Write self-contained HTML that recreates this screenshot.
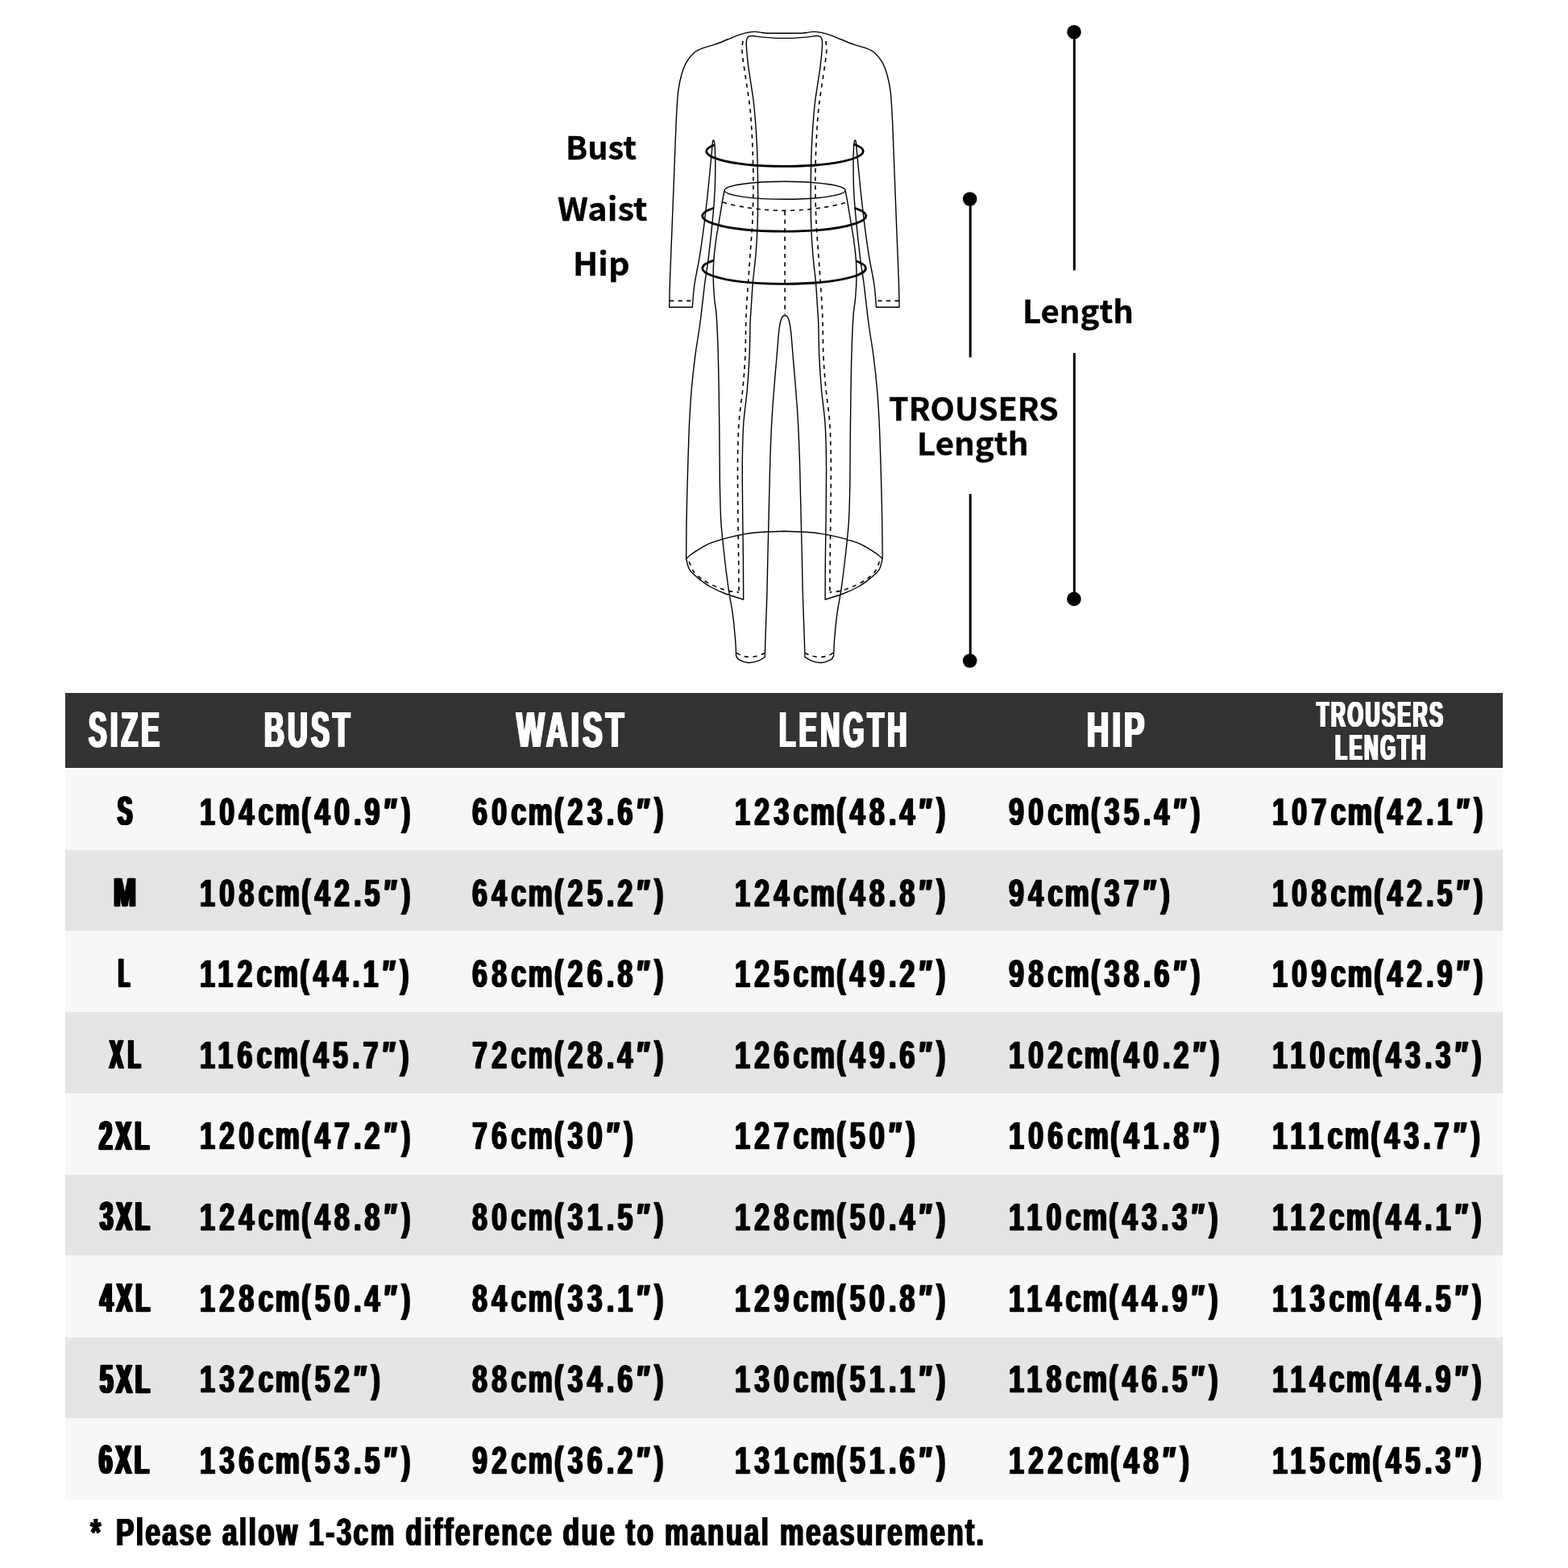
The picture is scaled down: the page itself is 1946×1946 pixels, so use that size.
<!DOCTYPE html>
<html lang="en">
<head>
<meta charset="utf-8">
<meta name="viewport" content="width=1946">
<title>Size Chart</title>
<style>
html,body{margin:0;padding:0;background:#fff}
body{width:1946px;height:1946px;position:relative;overflow:hidden;font-family:"Liberation Sans",sans-serif;font-weight:bold;color:#000}
.figure{position:absolute;left:0;top:0;display:block}
.t{position:absolute;margin:0;white-space:nowrap;line-height:1;transform-origin:0 0;font-weight:bold;will-change:transform}
.lbl{font-family:"Noto Sans CJK SC", "Liberation Sans", sans-serif;-webkit-text-stroke:.35px #000}
.chart{position:absolute;left:81px;top:860px;width:1784px;height:1001px}
.head{position:absolute;left:0;top:0;width:100%;height:93px;background:#333;color:#fff}
.row{position:absolute;left:0;width:100%;background:#f7f7f7}
.row.alt{background:#e5e5e5}
.row .t{font-size:48.5px;letter-spacing:7.54px;transform:scaleX(0.7);-webkit-text-stroke:0.5px #000;text-shadow:1.6px 0 #000,-1.6px 0 #000,0.8px 0 #000,-0.8px 0 #000;}
.row i{font-style:normal;letter-spacing:3.27px}
.row b{font-weight:inherit;letter-spacing:5.72px}
.c1{left:166.9px}
.c2{left:504.7px}
.c3{left:831.1px}
.c4{left:1171px}
.c5{left:1498.1px}
</style>
</head>
<body>
<svg class="figure" width="1946" height="860" viewBox="0 0 1946 860" role="img" aria-label="Measurement guide">
<g class="garment" fill="none" stroke="#000" stroke-width="1.4" stroke-linecap="round" stroke-linejoin="round">
<path d="M973.4,41.3C971.5,41.3 965.5,41.3 962,41.3C958.5,41.3 954.9,41.3 952.5,41.2C950.1,41.1 949,41 947.5,40.8C946,40.6 945.2,40.3 943.5,40.1C941.8,39.9 939.5,39.4 937,39.4C934.5,39.4 931.8,39.6 928.7,40.2C925.6,40.8 922.6,41.3 918.3,42.8C914,44.3 908,46.9 902.8,49C897.6,51.1 892.5,53.4 887.3,55.2C882.1,57 876.1,58.2 871.8,59.9C867.5,61.6 864.7,62.7 861.4,65.5C858.1,68.3 854.7,72.4 852.1,76.9C849.5,81.4 847.6,86.5 845.9,92.5C844.2,98.5 842.8,103.6 841.7,113.2C840.6,122.8 840.1,132.2 839.2,150C838.3,167.8 837.4,196.8 836.5,220C835.6,243.2 834.6,267.3 833.8,289C832.9,310.7 831.9,334.6 831.4,350C830.9,365.4 830.8,376.1 830.7,381.3M973.4,41.3C975.3,41.3 981.3,41.3 984.8,41.3C988.3,41.3 991.9,41.3 994.3,41.2C996.7,41.1 997.8,41 999.3,40.8C1000.8,40.6 1001.5,40.3 1003.3,40.1C1005,39.9 1007.3,39.4 1009.8,39.4C1012.3,39.4 1015,39.6 1018.1,40.2C1021.2,40.8 1024.2,41.3 1028.5,42.8C1032.8,44.3 1038.8,46.9 1044,49C1049.2,51.1 1054.3,53.4 1059.5,55.2C1064.7,57 1070.7,58.2 1075,59.9C1079.3,61.6 1082.1,62.7 1085.4,65.5C1088.7,68.3 1092.1,72.4 1094.7,76.9C1097.3,81.4 1099.2,86.5 1100.9,92.5C1102.6,98.5 1104,103.6 1105.1,113.2C1106.2,122.8 1106.7,132.2 1107.6,150C1108.5,167.8 1109.4,196.8 1110.3,220C1111.2,243.2 1112.2,267.3 1113,289C1113.8,310.7 1114.9,334.6 1115.4,350C1115.9,365.4 1116,376.1 1116.1,381.3M859.3,381.3C859.5,378.6 860.1,370.2 860.6,365C861.1,359.8 861,358.2 862.4,350C863.8,341.8 866.8,327.4 868.7,315.6C870.6,303.8 872.2,291.5 873.8,279.4C875.3,267.3 876.6,256.1 878,243.2C879.4,230.3 881.2,211.3 882.1,201.8C883,192.3 883.3,189.8 883.6,186C883.9,182.2 883.9,180.7 884.1,179C884.3,177.3 884.4,176.4 884.6,175.6C884.8,174.8 885.2,173.9 885.5,173.9C885.8,173.9 886.2,174.8 886.4,175.6C886.6,176.4 886.7,177.3 886.9,179C887.1,180.7 887.2,182.2 887.4,186C887.5,189.8 887.8,194 887.8,201.8C887.8,209.6 887.7,222.5 887.3,232.8C886.9,243.2 886.1,253.5 885.2,263.9C884.3,274.2 883.2,284.5 882.1,294.9C881,305.2 879.7,316.8 878.5,326C877.3,335.2 876.5,337.7 874.9,350C873.3,362.3 871,384.8 869,400C867,415.2 864.6,427.6 862.8,441.4C861,455.2 859.5,469 858.3,482.8C857.1,496.6 856.3,510.4 855.6,524.2C854.9,538 854.6,551.8 854.1,565.6C853.6,579.4 853.2,593.2 852.9,607C852.5,620.8 852.2,634 852,648.4C851.8,662.8 851.7,686 851.6,693.5M1087.5,381.3C1087.3,378.6 1086.7,370.2 1086.2,365C1085.7,359.8 1085.8,358.2 1084.4,350C1083.1,341.8 1080,327.4 1078.1,315.6C1076.2,303.8 1074.5,291.5 1073,279.4C1071.5,267.3 1070.2,256.1 1068.8,243.2C1067.4,230.3 1065.6,211.3 1064.7,201.8C1063.8,192.3 1063.5,189.8 1063.2,186C1062.9,182.2 1062.9,180.7 1062.7,179C1062.5,177.3 1062.4,176.4 1062.2,175.6C1062,174.8 1061.6,173.9 1061.3,173.9C1061,173.9 1060.6,174.8 1060.4,175.6C1060.2,176.4 1060.1,177.3 1059.9,179C1059.7,180.7 1059.6,182.2 1059.4,186C1059.2,189.8 1059,194 1059,201.8C1059,209.6 1059.1,222.5 1059.5,232.8C1059.9,243.2 1060.7,253.5 1061.6,263.9C1062.5,274.2 1063.6,284.5 1064.7,294.9C1065.8,305.2 1067.1,316.8 1068.3,326C1069.5,335.2 1070.3,337.7 1071.9,350C1073.5,362.3 1075.8,384.8 1077.8,400C1079.8,415.2 1082.2,427.6 1084,441.4C1085.8,455.2 1087.3,469 1088.5,482.8C1089.7,496.6 1090.5,510.4 1091.2,524.2C1091.9,538 1092.2,551.8 1092.7,565.6C1093.1,579.4 1093.6,593.2 1093.9,607C1094.2,620.8 1094.6,634 1094.8,648.4C1095,662.8 1095.1,686 1095.2,693.5M851.6,693.5C852.3,695.7 853.2,702.8 855.7,706.8C858.2,710.8 862.2,714 866.6,717.6C871,721.2 876.4,725.3 882.1,728.5C887.8,731.7 893.9,734.4 900.7,737C907.5,739.6 919,742.8 922.7,744M1095.2,693.5C1094.5,695.7 1093.6,702.8 1091.1,706.8C1088.6,710.8 1084.6,714 1080.2,717.6C1075.8,721.2 1070.4,725.3 1064.7,728.5C1059,731.7 1052.9,734.4 1046.1,737C1039.3,739.6 1027.8,742.8 1024.1,744M922.7,744C922.7,735 922.5,705.9 922.4,690C922.2,674.1 922,662.2 921.8,648.4C921.6,634.6 921.5,620.8 921.4,607C921.3,593.2 921.1,579.4 921.4,565.6C921.6,551.8 921.9,538 922.9,524.2C923.9,510.4 926.2,496.6 927.4,482.8C928.6,469 929.5,455.2 930.1,441.4C930.7,427.6 930.8,409.9 931.1,400C931.5,390.1 931.7,390.6 932.2,382.3C932.8,374 933.4,361.1 934.4,350C935.4,338.9 937,327.4 938,315.6C939,303.8 939.7,291.5 940.1,279.4C940.5,267.3 940.6,255.4 940.6,243.2C940.6,231 940.4,215.9 940.2,206.3C940,196.7 939.9,192.5 939.6,185.6C939.3,178.7 938.9,171.8 938.5,164.9C938.1,158 937.6,151.1 937,144.2C936.4,137.3 935.8,130.4 934.9,123.5C934,116.6 932.8,109.7 931.8,102.8C930.8,95.9 929.6,89 928.7,82.1C927.8,75.2 927,66.6 926.6,61.4C926.2,56.2 926.1,53.6 926.4,51C926.7,48.4 927,47 928.2,45.9C929.5,44.8 931.2,44.5 933.9,44.5C936.6,44.5 939.9,45.5 944.2,45.9C948.5,46.3 954.9,46.9 959.8,47.1C964.7,47.4 971.1,47.4 973.4,47.4M1024.1,744C1024.1,735 1024.2,705.9 1024.4,690C1024.6,674.1 1024.8,662.2 1025,648.4C1025.2,634.6 1025.3,620.8 1025.4,607C1025.5,593.2 1025.7,579.4 1025.4,565.6C1025.2,551.8 1024.9,538 1023.9,524.2C1022.9,510.4 1020.6,496.6 1019.4,482.8C1018.2,469 1017.3,455.2 1016.7,441.4C1016.1,427.6 1016,409.9 1015.7,400C1015.3,390.1 1015.1,390.6 1014.6,382.3C1014,374 1013.4,361.1 1012.4,350C1011.4,338.9 1009.8,327.4 1008.8,315.6C1007.8,303.8 1007.1,291.5 1006.7,279.4C1006.3,267.3 1006.2,255.4 1006.2,243.2C1006.2,231 1006.4,215.9 1006.6,206.3C1006.8,196.7 1006.9,192.5 1007.2,185.6C1007.5,178.7 1007.9,171.8 1008.3,164.9C1008.7,158 1009.2,151.1 1009.8,144.2C1010.4,137.3 1011,130.4 1011.9,123.5C1012.8,116.6 1014,109.7 1015,102.8C1016,95.9 1017.2,89 1018.1,82.1C1019,75.2 1019.8,66.6 1020.2,61.4C1020.6,56.2 1020.7,53.6 1020.4,51C1020.1,48.4 1019.8,47 1018.6,45.9C1017.3,44.8 1015.6,44.5 1012.9,44.5C1010.2,44.5 1006.9,45.5 1002.6,45.9C998.3,46.3 991.9,46.9 987,47.1C982.1,47.4 975.7,47.4 973.4,47.4M898.9,237C898.5,239.1 897.7,243.2 896.6,249.4C895.5,255.6 893.9,265.8 892.5,274.2C891.1,282.6 889.4,291.5 888.3,300.1C887.1,308.7 886.1,317.6 885.6,326C885.1,334.4 885.2,343 885.4,350.7C885.6,358.4 886.2,365.1 886.8,372C887.4,378.9 888.5,381.9 889.2,392.1C889.9,402.4 890.6,418 891.1,433.5C891.6,449 891.9,469.2 892.2,485.3C892.5,501.4 892.6,516.6 892.8,530C892.9,543.4 893,552.8 893.1,565.6C893.2,578.4 893.2,593.2 893.5,607C893.8,620.8 894,634.6 894.9,648.4C895.8,662.2 897.5,676.2 899,690C900.5,703.8 902.5,719.2 904.2,731.3C905.9,743.3 908,751.6 909.4,762.3C910.8,773 912,786.7 912.7,795.3C913.4,803.9 913.5,810.8 913.6,813.9M1049.3,237C1049.7,239.1 1050.5,243.2 1051.6,249.4C1052.7,255.6 1054.3,265.8 1055.7,274.2C1057.1,282.6 1058.8,291.5 1059.9,300.1C1061.1,308.7 1062.1,317.6 1062.6,326C1063.1,334.4 1063,343 1062.8,350.7C1062.6,358.4 1062,365.1 1061.4,372C1060.8,378.9 1059.7,381.9 1059,392.1C1058.3,402.4 1057.6,418 1057.1,433.5C1056.6,449 1056.3,469.2 1056,485.3C1055.7,501.4 1055.6,516.6 1055.4,530C1055.2,543.4 1055.2,552.8 1055.1,565.6C1055,578.4 1055,593.2 1054.7,607C1054.4,620.8 1054.2,634.6 1053.3,648.4C1052.4,662.2 1050.8,676.2 1049.2,690C1047.7,703.8 1045.7,719.2 1044,731.3C1042.3,743.3 1040.2,751.6 1038.8,762.3C1037.4,773 1036.2,786.7 1035.5,795.3C1034.8,803.9 1034.8,810.8 1034.6,813.9M913.6,813.9C914.2,814.7 914.5,817.2 917,818.6C919.5,820 924.7,822.2 928.7,822.5C932.7,822.8 937.7,821.3 941.1,820.1C944.5,818.9 947.9,816.3 949.2,815.5M1034.6,813.9C1034,814.7 1033.7,817.2 1031.2,818.6C1028.7,820 1023.5,822.2 1019.5,822.5C1015.5,822.8 1010.5,821.3 1007.1,820.1C1003.7,818.9 1000.4,816.3 999,815.5M949.2,815.5C949.4,809.5 949.9,793.5 950.4,779.8C950.9,766.1 951.6,748.2 952,733.2C952.4,718.2 952.6,704.1 952.9,690C953.2,675.9 953.6,662.2 953.9,648.4C954.2,634.6 954.5,620.8 954.9,607C955.2,593.2 955.5,580.7 956,565.6C956.5,550.5 957.3,531.4 958.2,516.3C959.1,501.2 960.3,487 961.3,474.9C962.2,462.8 963.1,453.4 963.9,443.9C964.7,434.4 965.4,424.6 966,418C966.6,411.4 967,408.1 967.6,404.5C968.2,400.9 968.8,398.3 969.5,396.3C970.2,394.3 970.8,393.3 971.6,392.5C972.4,391.7 973.7,391.5 974.1,391.3M999,815.5C998.8,809.5 998.3,793.5 997.8,779.8C997.3,766.1 996.6,748.2 996.2,733.2C995.8,718.2 995.6,704.1 995.3,690C995,675.9 994.6,662.2 994.3,648.4C994,634.6 993.7,620.8 993.3,607C993,593.2 992.8,580.7 992.2,565.6C991.7,550.5 990.9,531.4 990,516.3C989.1,501.2 987.9,487 986.9,474.9C986,462.8 985.1,453.4 984.3,443.9C983.5,434.4 982.8,424.6 982.2,418C981.6,411.4 981.2,408.1 980.6,404.5C980,400.9 979.4,398.3 978.7,396.3C978,394.3 977.4,393.3 976.6,392.5C975.8,391.7 974.5,391.5 974.1,391.3M830.7,381.3H859.3M1116.1,381.3H1087.5M851.6,693.5C852.4,692.8 854.6,690.5 856.5,689C858.4,687.5 860.1,686.4 862.8,684.7C865.5,683 869,680.5 872.5,678.6C876,676.7 878.2,675.2 883.5,673.3C888.8,671.4 895.6,669.1 904.2,667.1C912.8,665.1 923.8,662.6 935.3,661.3C946.8,660 967,659.6 973.4,659.3M1095.2,693.5C1094.4,692.8 1092.2,690.5 1090.3,689C1088.4,687.5 1086.7,686.4 1084,684.7C1081.3,683 1077.8,680.5 1074.3,678.6C1070.8,676.7 1068.6,675.2 1063.3,673.3C1058,671.4 1051.2,669.1 1042.6,667.1C1034,665.1 1023,662.6 1011.5,661.3C1000,660 979.8,659.6 973.4,659.3"/>
<ellipse cx="974.1" cy="236.3" rx="75" ry="11"/>
<path stroke-width="1.6" stroke-dasharray="5.2 5.4" stroke-linecap="butt" d="M922,51C921.8,52.7 920.8,57.1 920.9,61.4C921,65.7 921.7,70.9 922.5,76.9C923.3,82.9 924.6,90.7 925.6,97.6C926.6,104.5 927.8,111.4 928.7,118.3C929.7,125.2 930.6,132.1 931.3,139C932,145.9 932.4,152.8 932.8,159.7C933.2,166.6 933.6,173.5 933.9,180.5C934.2,187.5 934.4,193.1 934.6,201.8C934.8,210.5 935,220.7 934.9,232.8C934.8,244.9 934.4,262.1 933.9,274.2C933.4,286.3 932.6,294.1 931.8,305.3C931,316.5 930.2,326.9 929.2,341.5C928.2,356.1 926.7,376.1 926,392.7C925.3,409.3 925.6,426.4 924.9,441.4C924.2,456.4 923.1,469 921.8,482.8C920.5,496.6 918.1,510.4 917.1,524.2C916.1,538 915.9,551.8 915.6,565.6C915.4,579.4 915.5,593.2 915.6,607C915.7,620.8 915.8,634.6 916,648.4C916.2,662.2 916.4,675.6 916.6,690C916.8,704.4 916.9,727.5 917,735M1024.8,51C1025,52.7 1026,57.1 1025.9,61.4C1025.8,65.7 1025.1,70.9 1024.3,76.9C1023.5,82.9 1022.2,90.7 1021.2,97.6C1020.2,104.5 1019,111.4 1018.1,118.3C1017.1,125.2 1016.2,132.1 1015.5,139C1014.8,145.9 1014.4,152.8 1014,159.7C1013.6,166.6 1013.2,173.5 1012.9,180.5C1012.6,187.5 1012.4,193.1 1012.2,201.8C1012,210.5 1011.8,220.7 1011.9,232.8C1012,244.9 1012.4,262.1 1012.9,274.2C1013.4,286.3 1014.2,294.1 1015,305.3C1015.8,316.5 1016.6,326.9 1017.6,341.5C1018.6,356.1 1020.1,376.1 1020.8,392.7C1021.5,409.3 1021.2,426.4 1021.9,441.4C1022.6,456.4 1023.7,469 1025,482.8C1026.3,496.6 1028.7,510.4 1029.7,524.2C1030.7,538 1030.9,551.8 1031.2,565.6C1031.4,579.4 1031.3,593.2 1031.2,607C1031.1,620.8 1031,634.6 1030.8,648.4C1030.6,662.2 1030.4,675.6 1030.2,690C1030,704.4 1029.9,727.5 1029.8,735M855.3,697C856.2,699.1 858,705.7 861,709.5C864,713.3 868.2,716.8 873,720C877.8,723.2 884.7,726.5 890,728.8C895.3,731.1 900.5,732.6 905,733.6C909.5,734.6 915,734.8 917,735M1091.5,697C1090.5,699.1 1088.8,705.7 1085.8,709.5C1082.8,713.3 1078.6,716.8 1073.8,720C1069,723.2 1062.1,726.5 1056.8,728.8C1051.5,731.1 1046.3,732.6 1041.8,733.6C1037.3,734.6 1031.8,734.8 1029.8,735M914.3,810.3C915.4,810.9 918.4,812.9 921,813.8C923.6,814.7 926.8,815.5 930,815.6C933.2,815.7 936.9,815 940,814.2C943.1,813.4 947.3,811.2 948.8,810.6M1033.9,810.3C1032.8,810.9 1029.8,812.9 1027.2,813.8C1024.6,814.7 1021.4,815.5 1018.2,815.6C1015,815.7 1011.3,815 1008.2,814.2C1005.1,813.4 1000.9,811.2 999.4,810.6M831,373.4H860.4M1115.8,373.4H1086.4M897.1,250.9C898.4,251.3 901.2,252.4 905,253.3C908.8,254.2 915,255.5 920,256.4C925,257.3 929.7,258 935,258.7C940.3,259.4 945.5,260.1 952,260.5C958.5,260.9 966.7,261.4 974.1,261.4C981.5,261.4 989.7,260.9 996.2,260.5C1002.7,260.1 1007.9,259.4 1013.2,258.7C1018.5,258 1023.2,257.3 1028.2,256.4C1033.2,255.5 1039.4,254.2 1043.2,253.3C1047,252.4 1049.8,251.3 1051.1,250.9M974.1,262V390"/>
</g>
<g class="tape" fill="none" stroke="#000" stroke-width="2.8" stroke-linecap="round">
<path d="M885.4,180.2A97.3,18.5 0 1 0 1060.3,179.3"/>
<path d="M884.9,258.5A101.6,19.2 0 1 0 1061.6,258.5"/>
<path d="M885.1,323.4A101.4,19.3 0 1 0 1063.4,324.2"/>
</g>
<g class="dims" stroke="#000" stroke-width="3" fill="#000">
<path d="M1333.3,40V335.6M1333.3,438V743M1204.2,247V443.6M1204.2,613V820" fill="none"/>
<circle cx="1333" cy="39.8" r="8.8" stroke="none"/><circle cx="1332.9" cy="743.4" r="8.8" stroke="none"/>
<circle cx="1203.7" cy="247" r="8.8" stroke="none"/><circle cx="1203.7" cy="820" r="8.8" stroke="none"/>
</g>
</svg>
<div class="t lbl" style="left:701.87px;top:161.22px;font-size:39.29px;transform:scaleX(1.014)">Bust</div>
<div class="t lbl" style="left:692.16px;top:237.02px;font-size:39.29px;transform:scaleX(1.056)">Waist</div>
<div class="t lbl" style="left:711.13px;top:305.32px;font-size:39.29px;transform:scaleX(1.054)">Hip</div>
<div class="t lbl" style="left:1268.85px;top:365.13px;font-size:38.74px;transform:scaleX(1.035)">Length</div>
<div class="t lbl" style="left:1102.62px;top:485.76px;font-size:38.61px;transform:scaleX(1.021)">TROUSERS</div>
<div class="t lbl" style="left:1138.04px;top:528.99px;font-size:38.47px;transform:scaleX(1.046)">Length</div>
<div class="chart">
<div class="head">
<div class="t" style="left:29.06px;top:13.41px;font-size:63.66px;letter-spacing:8.12px;transform:scaleX(0.53);text-shadow:2.83px 0 #fff,-2.83px 0 #fff,1.42px 0 #fff,-1.42px 0 #fff;">SIZE</div>
<div class="t" style="left:246.71px;top:13.41px;font-size:63.66px;letter-spacing:7.99px;transform:scaleX(0.538);text-shadow:2.79px 0 #fff,-2.79px 0 #fff,1.39px 0 #fff,-1.39px 0 #fff;">BUST</div>
<div class="t" style="left:559.51px;top:13.41px;font-size:63.66px;letter-spacing:7.46px;transform:scaleX(0.576);text-shadow:2.6px 0 #fff,-2.6px 0 #fff,1.3px 0 #fff,-1.3px 0 #fff;">WAIST</div>
<div class="t" style="left:885.87px;top:13.41px;font-size:63.66px;letter-spacing:8.22px;transform:scaleX(0.523);text-shadow:2.87px 0 #fff,-2.87px 0 #fff,1.43px 0 #fff,-1.43px 0 #fff;">LENGTH</div>
<div class="t" style="left:1268.29px;top:13.41px;font-size:63.66px;letter-spacing:7.29px;transform:scaleX(0.59);text-shadow:2.54px 0 #fff,-2.54px 0 #fff,1.27px 0 #fff,-1.27px 0 #fff;">HIP</div>
<div class="t" style="left:1553.01px;top:4.65px;font-size:44.48px;letter-spacing:4.63px;transform:scaleX(0.561);text-shadow:2.32px 0 #fff,-2.32px 0 #fff,1.16px 0 #fff,-1.16px 0 #fff;">TROUSERS</div>
<div class="t" style="left:1575.68px;top:45.73px;font-size:44.62px;letter-spacing:4.8px;transform:scaleX(0.542);text-shadow:2.4px 0 #fff,-2.4px 0 #fff,1.2px 0 #fff,-1.2px 0 #fff;">LENGTH</div>
</div>
<div class="row" style="top:95px;height:100px">
<div class="t" style="left:64.55px;top:26.94px;font-size:50.4px;letter-spacing:0px;transform:scaleX(0.54);text-shadow:3.34px 0 #000,-3.34px 0 #000,1.67px 0 #000,-1.67px 0 #000;">S</div>
<div class="t c1" style="top:27.84px">104<i>cm</i>(40<b>.</b>9″)</div>
<div class="t c2" style="top:27.84px">60<i>cm</i>(23<b>.</b>6″)</div>
<div class="t c3" style="top:27.84px">123<i>cm</i>(48<b>.</b>4″)</div>
<div class="t c4" style="top:27.84px">90<i>cm</i>(35<b>.</b>4″)</div>
<div class="t c5" style="top:27.84px">107<i>cm</i>(42<b>.</b>1″)</div>
</div>
<div class="row alt" style="top:195px;height:100px">
<div class="t" style="left:59.64px;top:27.6px;font-size:50.4px;letter-spacing:0px;transform:scaleX(0.66);text-shadow:2.73px 0 #000,-2.73px 0 #000,1.36px 0 #000,-1.36px 0 #000;">M</div>
<div class="t c1" style="top:28.5px">108<i>cm</i>(42<b>.</b>5″)</div>
<div class="t c2" style="top:28.5px">64<i>cm</i>(25<b>.</b>2″)</div>
<div class="t c3" style="top:28.5px">124<i>cm</i>(48<b>.</b>8″)</div>
<div class="t c4" style="top:28.5px">94<i>cm</i>(37″)</div>
<div class="t c5" style="top:28.5px">108<i>cm</i>(42<b>.</b>5″)</div>
</div>
<div class="row" style="top:295px;height:101px">
<div class="t" style="left:66.2px;top:28.26px;font-size:50.4px;letter-spacing:0px;transform:scaleX(0.448);text-shadow:4.02px 0 #000,-4.02px 0 #000,2.01px 0 #000,-2.01px 0 #000;">L</div>
<div class="t c1" style="top:29.16px">112<i>cm</i>(44<b>.</b>1″)</div>
<div class="t c2" style="top:29.16px">68<i>cm</i>(26<b>.</b>8″)</div>
<div class="t c3" style="top:29.16px">125<i>cm</i>(49<b>.</b>2″)</div>
<div class="t c4" style="top:29.16px">98<i>cm</i>(38<b>.</b>6″)</div>
<div class="t c5" style="top:29.16px">109<i>cm</i>(42<b>.</b>9″)</div>
</div>
<div class="row alt" style="top:396px;height:101px">
<div class="t" style="left:54.56px;top:27.92px;font-size:50.4px;letter-spacing:12.25px;transform:scaleX(0.5);text-shadow:3.6px 0 #000,-3.6px 0 #000,1.8px 0 #000,-1.8px 0 #000;">XL</div>
<div class="t c1" style="top:28.82px">116<i>cm</i>(45<b>.</b>7″)</div>
<div class="t c2" style="top:28.82px">72<i>cm</i>(28<b>.</b>4″)</div>
<div class="t c3" style="top:28.82px">126<i>cm</i>(49<b>.</b>6″)</div>
<div class="t c4" style="top:28.82px">102<i>cm</i>(40<b>.</b>2″)</div>
<div class="t c5" style="top:28.82px">110<i>cm</i>(43<b>.</b>3″)</div>
</div>
<div class="row" style="top:497px;height:101px">
<div class="t" style="left:42.38px;top:27.58px;font-size:50.4px;letter-spacing:7.36px;transform:scaleX(0.58);text-shadow:3.1px 0 #000,-3.1px 0 #000,1.55px 0 #000,-1.55px 0 #000;">2XL</div>
<div class="t c1" style="top:28.48px">120<i>cm</i>(47<b>.</b>2″)</div>
<div class="t c2" style="top:28.48px">76<i>cm</i>(30″)</div>
<div class="t c3" style="top:28.48px">127<i>cm</i>(50″)</div>
<div class="t c4" style="top:28.48px">106<i>cm</i>(41<b>.</b>8″)</div>
<div class="t c5" style="top:28.48px">111<i>cm</i>(43<b>.</b>7″)</div>
</div>
<div class="row alt" style="top:598px;height:100px">
<div class="t" style="left:42.84px;top:27.24px;font-size:50.4px;letter-spacing:6.83px;transform:scaleX(0.58);text-shadow:3.1px 0 #000,-3.1px 0 #000,1.55px 0 #000,-1.55px 0 #000;">3XL</div>
<div class="t c1" style="top:28.14px">124<i>cm</i>(48<b>.</b>8″)</div>
<div class="t c2" style="top:28.14px">80<i>cm</i>(31<b>.</b>5″)</div>
<div class="t c3" style="top:28.14px">128<i>cm</i>(50<b>.</b>4″)</div>
<div class="t c4" style="top:28.14px">110<i>cm</i>(43<b>.</b>3″)</div>
<div class="t c5" style="top:28.14px">112<i>cm</i>(44<b>.</b>1″)</div>
</div>
<div class="row" style="top:698px;height:102px">
<div class="t" style="left:42.7px;top:27.9px;font-size:50.4px;letter-spacing:7.3px;transform:scaleX(0.58);text-shadow:3.1px 0 #000,-3.1px 0 #000,1.55px 0 #000,-1.55px 0 #000;">4XL</div>
<div class="t c1" style="top:28.8px">128<i>cm</i>(50<b>.</b>4″)</div>
<div class="t c2" style="top:28.8px">84<i>cm</i>(33<b>.</b>1″)</div>
<div class="t c3" style="top:28.8px">129<i>cm</i>(50<b>.</b>8″)</div>
<div class="t c4" style="top:28.8px">114<i>cm</i>(44<b>.</b>9″)</div>
<div class="t c5" style="top:28.8px">113<i>cm</i>(44<b>.</b>5″)</div>
</div>
<div class="row alt" style="top:800px;height:100px">
<div class="t" style="left:42.59px;top:26.56px;font-size:50.4px;letter-spacing:7.05px;transform:scaleX(0.58);text-shadow:3.1px 0 #000,-3.1px 0 #000,1.55px 0 #000,-1.55px 0 #000;">5XL</div>
<div class="t c1" style="top:27.46px">132<i>cm</i>(52″)</div>
<div class="t c2" style="top:27.46px">88<i>cm</i>(34<b>.</b>6″)</div>
<div class="t c3" style="top:27.46px">130<i>cm</i>(51<b>.</b>1″)</div>
<div class="t c4" style="top:27.46px">118<i>cm</i>(46<b>.</b>5″)</div>
<div class="t c5" style="top:27.46px">114<i>cm</i>(44<b>.</b>9″)</div>
</div>
<div class="row" style="top:900px;height:101px">
<div class="t" style="left:42.47px;top:27.22px;font-size:50.4px;letter-spacing:7.15px;transform:scaleX(0.58);text-shadow:3.1px 0 #000,-3.1px 0 #000,1.55px 0 #000,-1.55px 0 #000;">6XL</div>
<div class="t c1" style="top:28.12px">136<i>cm</i>(53<b>.</b>5″)</div>
<div class="t c2" style="top:28.12px">92<i>cm</i>(36<b>.</b>2″)</div>
<div class="t c3" style="top:28.12px">131<i>cm</i>(51<b>.</b>6″)</div>
<div class="t c4" style="top:28.12px">122<i>cm</i>(48″)</div>
<div class="t c5" style="top:28.12px">115<i>cm</i>(45<b>.</b>3″)</div>
</div>
</div>
<p class="t note" style="left:143.56px;top:1877.74px;font-size:47.67px;letter-spacing:3.42px;transform:scaleX(0.701);text-shadow:1.43px 0 #000,-1.43px 0 #000,0.71px 0 #000,-0.71px 0 #000;"><span style="position:absolute;left:-45.4px">*</span> Please allow 1-3cm difference due to manual measurement.</p>
</body>
</html>
